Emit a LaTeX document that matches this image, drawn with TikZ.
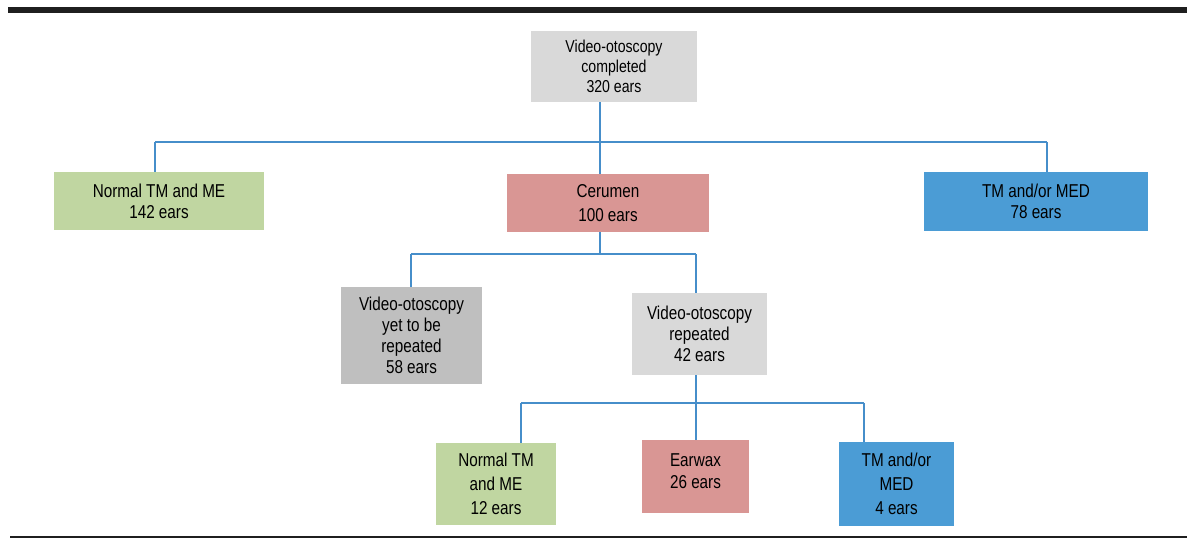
\documentclass[tikz,border=0pt]{standalone}
\usepackage{fontspec}
\setmainfont[FakeStretch=0.82]{Liberation Sans}
\usepackage{xcolor}
\usetikzlibrary{positioning, calc}
\definecolor{boxgray}{RGB}{217, 217, 217}
\definecolor{boxdark}{RGB}{191, 191, 191}
\definecolor{boxgreen}{RGB}{192, 214, 161}
\definecolor{boxpink}{RGB}{217, 150, 148}
\definecolor{boxblue}{RGB}{75, 156, 213}
\definecolor{linkblue}{RGB}{70, 142, 202}

\begin{document}
\begin{tikzpicture}[
        x=0.02cm, y=-0.02cm,
        block/.style={inner sep=0pt, align=center, font=\fontsize{10.6}{12}\selectfont},
        link/.style={draw=linkblue, line width=1pt}
    ]
        \useasboundingbox (0,0) rectangle (1187,538);

        % Rules
        \fill[black!88] (8,7) rectangle (1187,13);
        \draw[black!88, line width=1.1pt] (10,537) -- (1187,537);

        % Top
        \node[block, font=\fontsize{9.8}{11.2}\selectfont, fill=boxgray, minimum width=3.32cm, minimum height=1.42cm] (done) at (614, 66.5) {
            Video-otoscopy\\
            completed\\
            320 ears
        };

        % First level
        \node[block, fill=boxgreen, minimum width=4.2cm, minimum height=1.16cm] (normal) at (159, 201) {
            Normal TM and ME\\
            142 ears
        };
        \node[block, fill=boxpink, minimum width=4.04cm, minimum height=1.16cm] (cerumen) at (608, 203) {
            Cerumen\\[2pt]
            100 ears
        };
        \node[block, fill=boxblue, minimum width=4.48cm, minimum height=1.18cm] (med) at (1036, 201.5) {
            TM and/or MED\\
            78 ears
        };

        % Second level
        \node[block, fill=boxdark, minimum width=2.82cm, minimum height=1.94cm] (pending) at (411.5, 335.5) {
            Video-otoscopy\\
            yet to be\\
            repeated\\
            58 ears
        };
        \node[block, fill=boxgray, minimum width=2.7cm, minimum height=1.64cm] (repeat) at (699.5, 334) {
            Video-otoscopy\\
            repeated\\
            42 ears
        };

        % Third level
        \node[block, fill=boxgreen, minimum width=2.4cm, minimum height=1.64cm] (normaltwo) at (496, 484) {
            Normal TM\\[1.5pt]
            and ME\\[1.5pt]
            12 ears
        };
        \node[block, fill=boxpink, minimum width=2.14cm, minimum height=1.46cm] (earwax) at (695.5, 476.5) {
            Earwax\\[0.5pt]
            26 ears\\[-6pt]
            \mbox{}
        };
        \node[block, fill=boxblue, minimum width=2.3cm, minimum height=1.68cm] (medtwo) at (896.5, 484) {
            TM and/or\\[1.5pt]
            MED\\[1.5pt]
            4 ears
        };

        % Bus points
        \coordinate (busA) at (600, 142);
        \coordinate (busAl) at (155, 142);
        \coordinate (busAr) at (1047, 142);
        \coordinate (busB) at (600, 254);
        \coordinate (busBl) at (411, 254);
        \coordinate (busBr) at (696, 254);
        \coordinate (busC) at (696, 403);
        \coordinate (busCl) at (521, 403);
        \coordinate (busCr) at (864, 403);

        % Connectors
        \draw[link] (done.south -| busA) -- (busA);
        \draw[link] (busAl) -- (busAr);
        \draw[link] (busAl) -- (busAl |- normal.north);
        \draw[link] (busA) -- (busA |- cerumen.north);
        \draw[link] (busAr) -- (busAr |- med.north);

        \draw[link] (cerumen.south -| busB) -- (busB);
        \draw[link] (busBl) -- (busBr);
        \draw[link] (busBl) -- (busBl |- pending.north);
        \draw[link] (busBr) -- (busBr |- repeat.north);

        \draw[link] (repeat.south -| busC) -- (busC);
        \draw[link] (busCl) -- (busCr);
        \draw[link] (busCl) -- (busCl |- normaltwo.north);
        \draw[link] (busC) -- (busC |- earwax.north);
        \draw[link] (busCr) -- (busCr |- medtwo.north);
    \end{tikzpicture}
\end{document}
